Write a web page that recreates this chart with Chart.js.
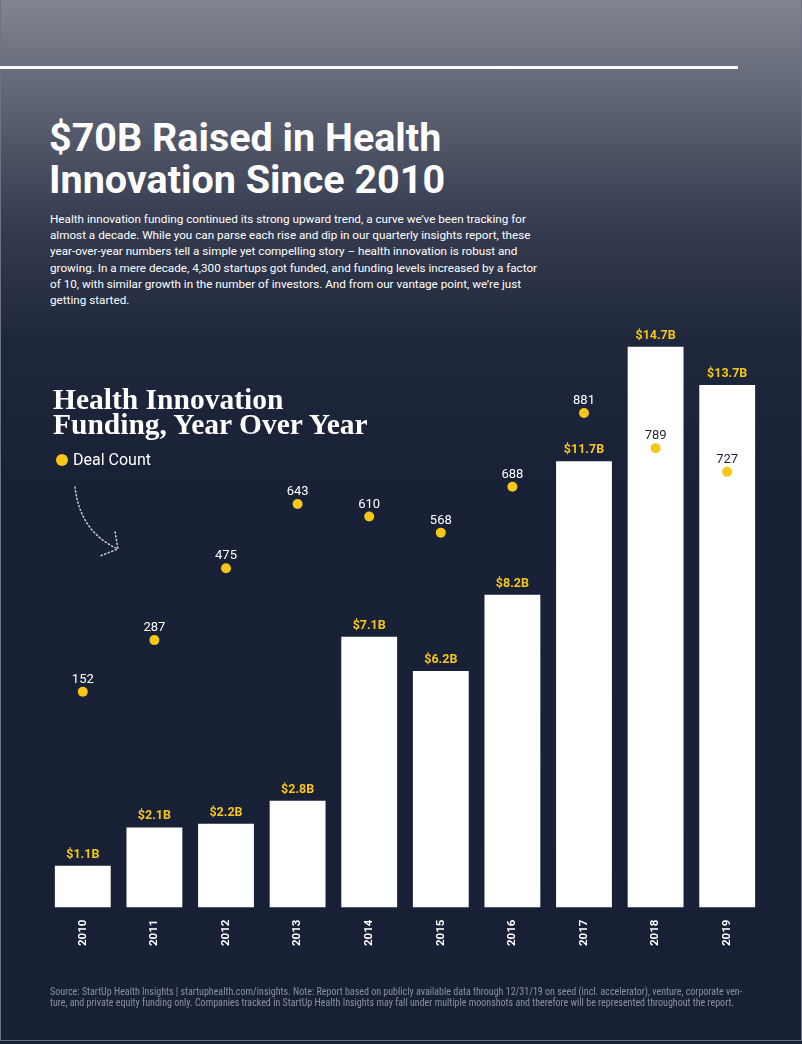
<!DOCTYPE html>
<html>
<head>
<meta charset="utf-8">
<script src="https://cdn.jsdelivr.net/npm/chart.js@4.4.1/dist/chart.umd.min.js"></script>
<style>
  html, body { margin: 0; padding: 0; }
  body {
    width: 802px; height: 1044px; position: relative; overflow: hidden;
    background: linear-gradient(180deg, #81858f 0px, #5b6171 110px, #363d51 220px, #1f273b 340px, #192137 480px, #172035 1044px);
  }
  .rule { position: absolute; left: 0; top: 66px; width: 738px; height: 3px; background: #fff; }
  .frame { position: absolute; left: 0; top: 0; width: 800px; height: 1040px; border: 1px solid #6d7383; border-top: none; }
  h1 {
    position: absolute; left: 49px; top: 117px; margin: 0;
    font-family: Roboto, "Noto Sans", sans-serif; font-weight: 700; font-size: 39.5px; line-height: 42px;
    color: #fff;
  }
  .intro {
    position: absolute; left: 50px; top: 211px; margin: 0;
    font-family: Roboto, "Noto Sans", sans-serif; font-size: 11.7px; line-height: 16.2px; color: #fff;
    white-space: nowrap;
  }
  .ctitle {
    position: absolute; left: 53px; top: 387px; margin: 0;
    font-family: "Liberation Serif", "DejaVu Serif", serif; font-weight: 700; font-size: 29.5px; line-height: 25px; color: #fff;
  }
  .legend {
    position: absolute; left: 56px; top: 450px; font-family: Roboto, sans-serif; font-size: 16px; color: #fff; line-height: 20px;
  }
  .legend i { display: inline-block; width: 12px; height: 12px; border-radius: 50%; background: #f6c619; vertical-align: -1px; margin-right: 5px; }
  #wrap { position: absolute; left: 0; top: 296px; width: 802px; height: 654px; }
  svg { position: absolute; left: 0; top: 0; }
  .foot {
    position: absolute; left: 50px; top: 987px; margin: 0;
    font-family: "Liberation Sans Narrow", "Roboto Condensed", Roboto, sans-serif; font-size: 10px; line-height: 10.5px; color: #8b91a1;
    white-space: nowrap;
  }
</style>
</head>
<body>
<div class="frame"></div>
<div class="rule"></div>
<h1>$70B Raised in Health<br>Innovation Since 2010</h1>
<p class="intro">Health innovation funding continued its strong upward trend, a curve we’ve been tracking for<br>almost a decade. While you can parse each rise and dip in our quarterly insights report, these<br>year-over-year numbers tell a simple yet compelling story – health innovation is robust and<br>growing. In a mere decade, 4,300 startups got funded, and funding levels increased by a factor<br>of 10, with similar growth in the number of investors. And from our vantage point, we’re just<br>getting started.</p>
<div id="wrap"><canvas id="chart"></canvas></div>
<p class="ctitle">Health Innovation<br>Funding, Year Over Year</p>
<div class="legend"><i></i>Deal Count</div>
<svg width="802" height="1044">
  <g fill="none" stroke="#c9cdd6" stroke-width="1.5" stroke-dasharray="1.2 2.6" stroke-linecap="round">
    <path d="M75 487 Q 80 532 118 549" />
    <path d="M115 532 L118 549 L100 556" />
  </g>
</svg>
<p class="foot">Source: StartUp Health Insights | startuphealth.com/insights. Note: Report based on publicly available data through 12/31/19 on seed (incl. accelerator), venture, corporate ven-<br>ture, and private equity funding only. Companies tracked in StartUp Health Insights may fall under multiple moonshots and therefore will be represented throughout the report.</p>
<script>
const years = ['2010', '2011', '2012', '2013', '2014', '2015', '2016', '2017', '2018', '2019'];
const fundingBillions = [1.1, 2.1, 2.2, 2.8, 7.1, 6.2, 8.2, 11.7, 14.7, 13.7];
const dealCount = [152, 287, 475, 643, 610, 568, 688, 881, 789, 727];

const YELLOW = '#f6c619';

const valueLabels = {
  id: 'valueLabels',
  afterDatasetsDraw(chart) {
    const ctx = chart.ctx;
    const barMeta = chart.getDatasetMeta(0);
    const dotMeta = chart.getDatasetMeta(1);
    ctx.save();
    ctx.textAlign = 'center';
    ctx.textBaseline = 'alphabetic';
    ctx.font = '700 12.5px Roboto, "Noto Sans", sans-serif';
    ctx.fillStyle = YELLOW;
    barMeta.data.forEach((bar, i) => {
      ctx.fillText('$' + fundingBillions[i].toFixed(1) + 'B', bar.x, bar.y - 8);
    });
    ctx.font = '400 13px Roboto, "Noto Sans", sans-serif';
    dotMeta.data.forEach((pt, i) => {
      const bar = barMeta.data[i];
      const inside = pt.y > bar.y && Math.abs(pt.x - bar.x) < bar.width / 2;
      ctx.fillStyle = inside ? '#1d2438' : '#ffffff';
      ctx.fillText(String(dealCount[i]), pt.x, pt.y - 9);
    });
    ctx.restore();
  }
};

new Chart(document.getElementById('chart'), {
  data: {
    labels: years,
    datasets: [
      {
        type: 'bar',
        label: 'Funding',
        data: fundingBillions,
        yAxisID: 'y',
        backgroundColor: '#ffffff',
        borderWidth: 0,
        categoryPercentage: 1,
        barPercentage: 0.78,
        order: 2
      },
      {
        type: 'line',
        label: 'Deal Count',
        data: dealCount,
        yAxisID: 'y2',
        showLine: false,
        pointRadius: 5,
        pointBackgroundColor: YELLOW,
        pointBorderWidth: 0,
        order: 1
      }
    ]
  },
  options: {
    responsive: true,
    maintainAspectRatio: false,
    animation: false,
    layout: { padding: { top: 0, bottom: 0, left: 47, right: 39 } },
    plugins: { legend: { display: false }, tooltip: { enabled: false } },
    scales: {
      x: {
        grid: { display: false },
        border: { display: false },
        ticks: {
          color: '#ffffff',
          font: { family: 'Roboto, "Noto Sans", sans-serif', size: 11.5, weight: '700' },
          minRotation: 90,
          maxRotation: 90,
          padding: 4
        }
      },
      y: { display: false, min: 0, max: 15.9 },
      y2: { display: false, min: -412.4, max: 1173.7 }
    }
  },
  plugins: [valueLabels]
});
</script>
</body>
</html>
